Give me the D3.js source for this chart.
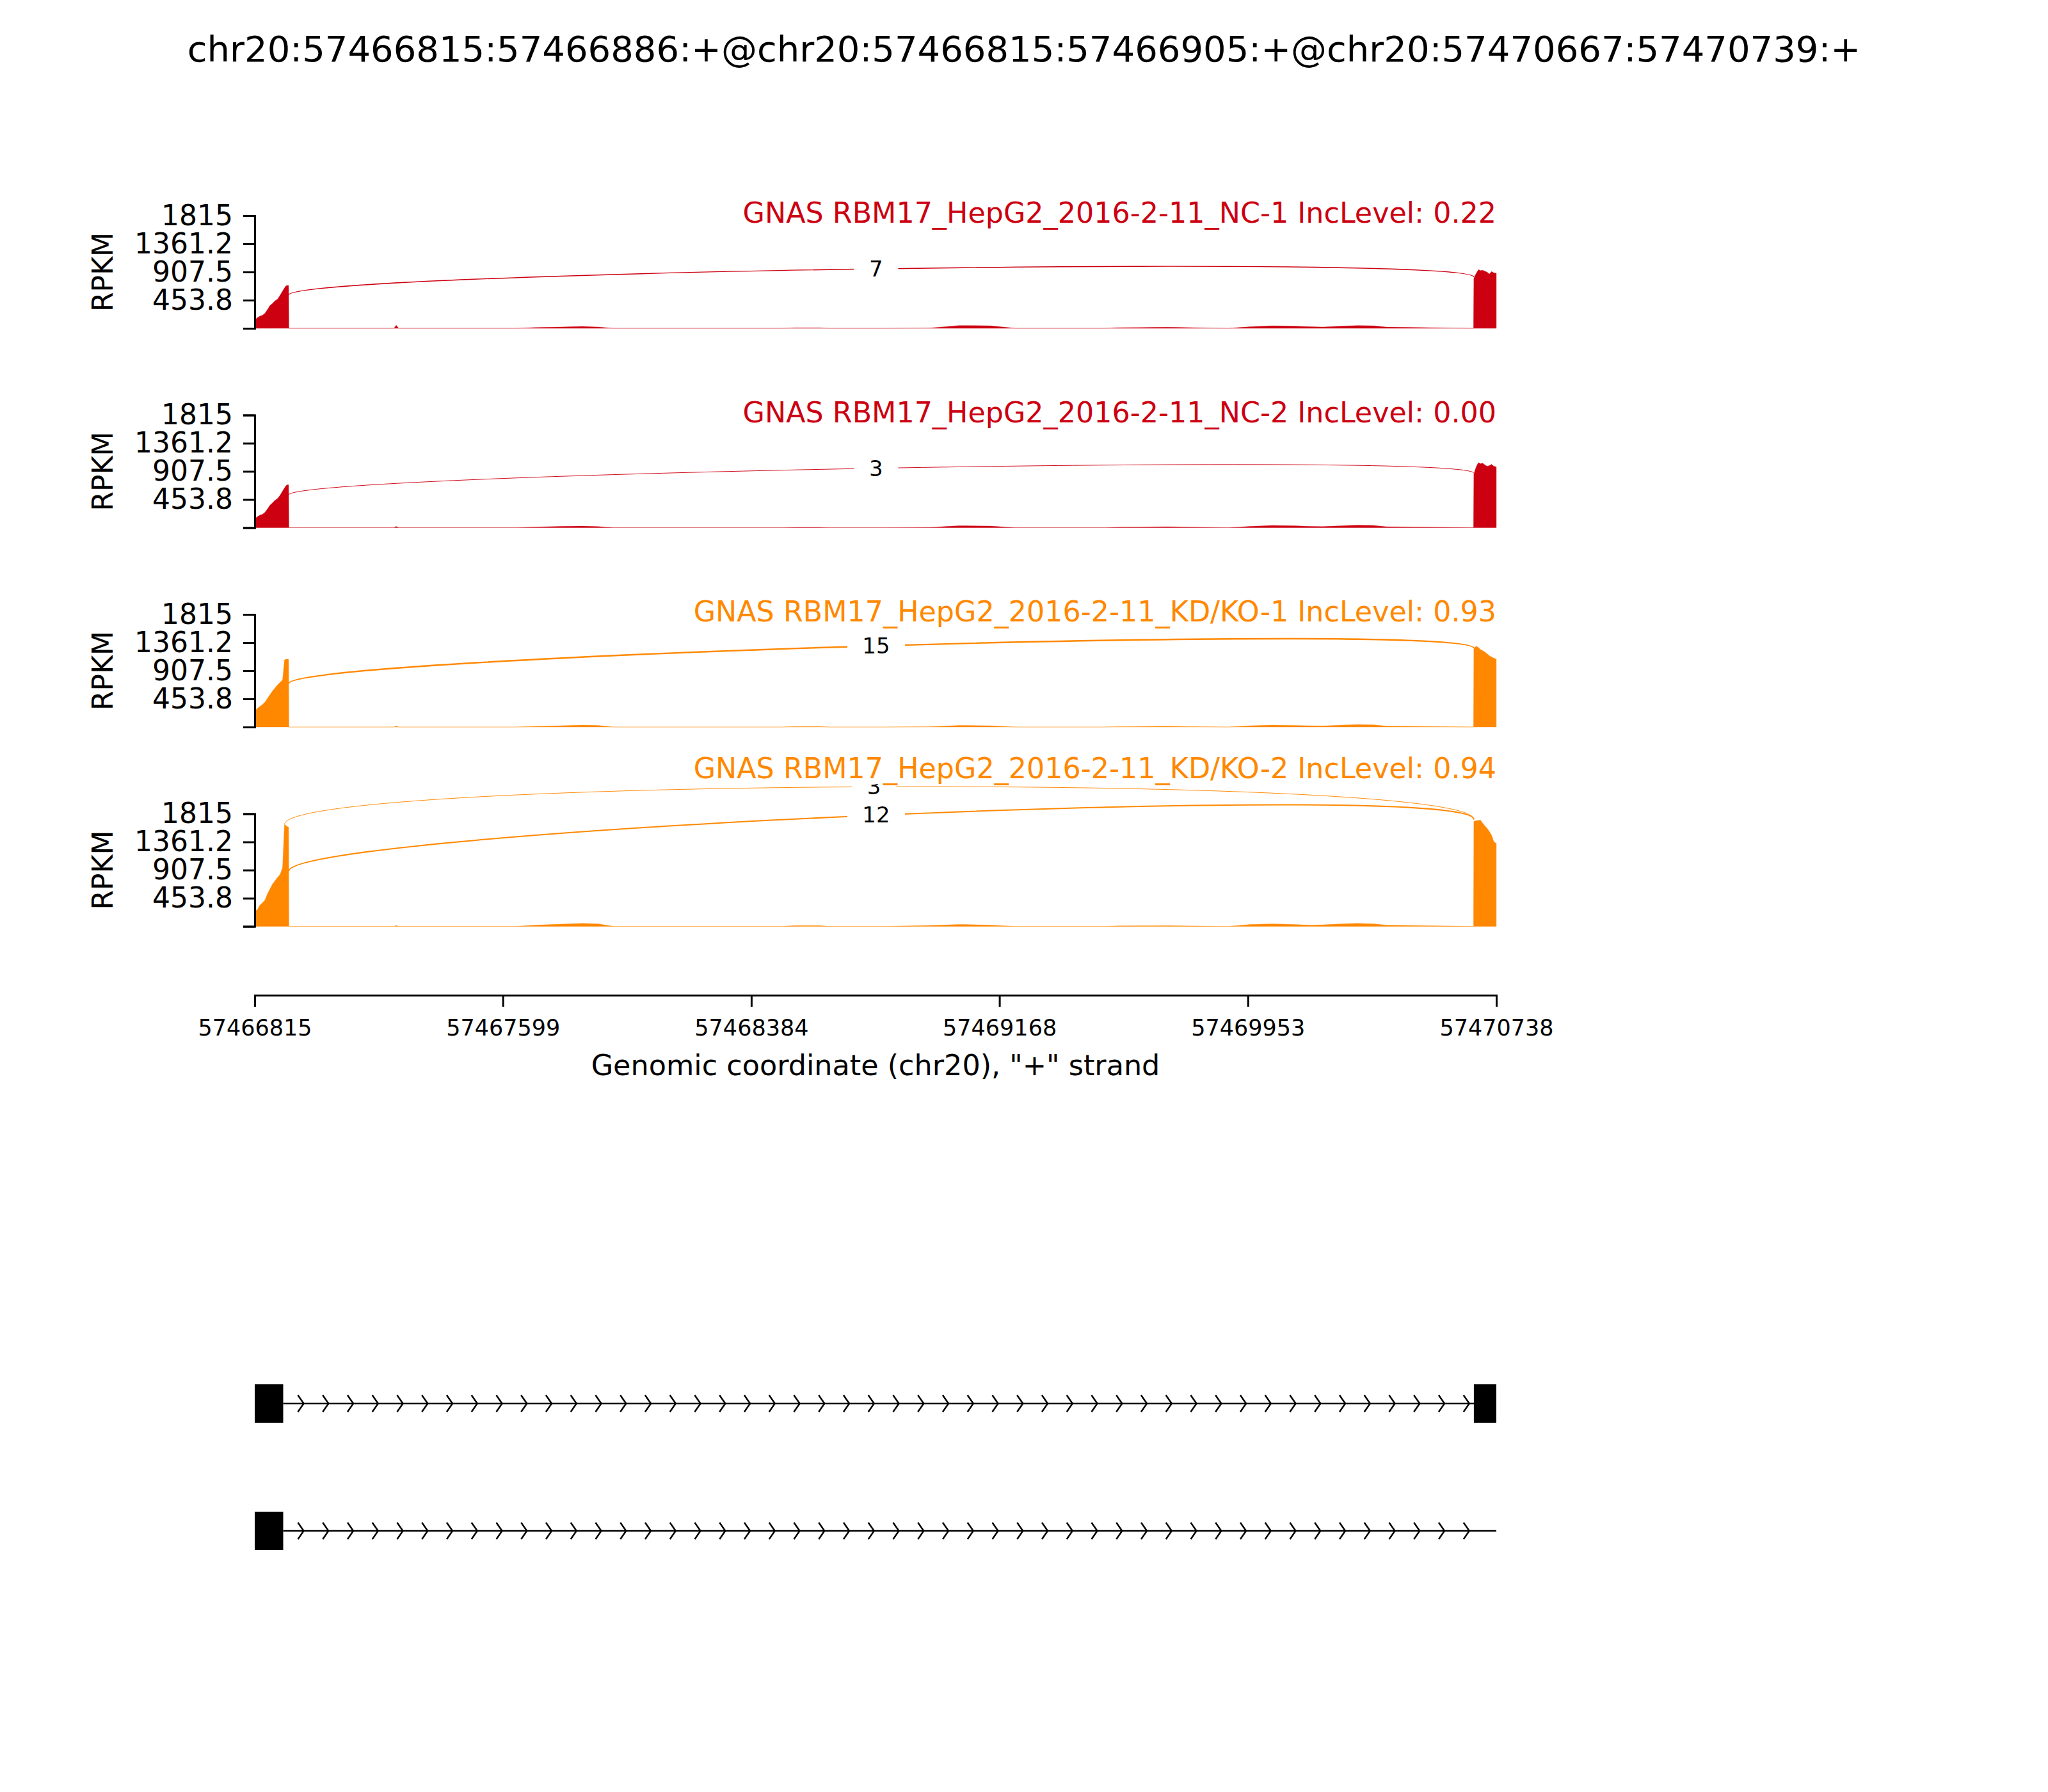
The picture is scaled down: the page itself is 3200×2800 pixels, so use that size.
<!DOCTYPE html>
<html><head><meta charset="utf-8">
<script src="https://cdn.jsdelivr.net/npm/d3@7/dist/d3.min.js"></script>
<style>body{margin:0;background:#fff} svg{display:block} text{font-family:"DejaVu Sans",sans-serif}</style>
</head><body><svg id="chart" width="3200" height="2800"></svg>
<script>
// ---------------- data ----------------
const eventTitle = "chr20:57466815:57466886:+@chr20:57466815:57466905:+@chr20:57470667:57470739:+";
const sampleLabels = ["GNAS RBM17_HepG2_2016-2-11_NC-1","GNAS RBM17_HepG2_2016-2-11_NC-2","GNAS RBM17_HepG2_2016-2-11_KD/KO-1","GNAS RBM17_HepG2_2016-2-11_KD/KO-2"];
const incLevels = ["0.22","0.00","0.93","0.94"];
const sampleGroup = [0,0,1,1];
const groupColors = ["#CC0011","#FF8800"];
const xDomain = [57466815, 57470738];
const xTickValues = [57466815, 57467599, 57468384, 57469168, 57469953, 57470738];
const yTickValues = [0, 453.8, 907.5, 1361.2, 1815];
const yTickLabels = ["", "453.8", "907.5", "1361.2", "1815"];
const yMax = 1815;
const xAxisLabel = 'Genomic coordinate (chr20), "+" strand';
const yAxisLabel = "RPKM";

// coverage sample positions
const exonLPos = [57466815,57466823,57466831,57466839,57466847,57466855,57466863,57466871,57466879,57466887,57466895,57466903,57466909,57466913,57466917,57466922];
const intronPos = [57466923,57467255,57467262,57467270,57467640,57467700,57467780,57467850,57467900,57467950,57468480,57468520,57468600,57468630,57468800,57468950,57469040,57469060,57469140,57469220,57469500,57469540,57469612,57469650,57469700,57469755,57469890,57469960,57470030,57470100,57470155,57470190,57470250,57470300,57470350,57470390,57470666];
const exonRPos = [57470667,57470671,57470676,57470682,57470688,57470695,57470702,57470709,57470716,57470723,57470730,57470738];

// coverage values (RPKM)
const covNC1_L = [134,170,195,210,240,300,365,400,443,470,530,600,650,680,690,691];
const covNC1_I = [0,0,50,0,0,12,20,30,20,0,0,8,8,0,0,6,45,45,40,0,0,10,12,15,18,12,0,25,40,35,25,20,35,45,40,20,0];
const covNC1_R = [804,850,900,945,930,935,920,905,875,915,895,890];
const covNC2_L = [144,175,200,215,245,300,360,400,440,470,520,590,640,670,690,691];
const covNC2_I = [0,0,20,0,0,10,20,25,18,0,0,6,6,0,0,5,30,30,25,0,0,8,10,12,15,10,0,20,35,30,20,18,30,40,35,15,0];
const covNC2_R = [860,930,1000,1050,1030,1040,1010,990,1000,1020,990,980];
const covKD1_L = [258,300,330,360,400,460,520,580,630,680,720,760,1080,1093,1093,1090];
const covKD1_I = [0,0,15,0,0,10,20,30,25,0,0,8,8,0,0,6,25,25,20,0,0,6,8,10,12,8,0,20,30,25,20,18,30,40,35,15,0];
const covKD1_R = [1260,1290,1300,1280,1250,1230,1210,1180,1150,1130,1110,1093];
const covKD2_L = [250,265,340,380,420,520,600,680,734,790,836,950,1642,1630,1610,1600];
const covKD2_I = [0,0,15,0,0,20,35,50,40,0,0,12,12,0,0,15,30,30,20,0,0,8,10,10,12,8,0,30,40,30,20,25,40,50,40,20,0];
const covKD2_R = [1693,1700,1705,1710,1713,1662,1620,1580,1530,1470,1366,1336];

// junctions
const juncSample = [0,1,2,3,3];
const juncCount = [7,3,15,3,12];
const juncStart = [57466922,57466922,57466922,57466909,57466922];
const juncEnd = [57470667,57470667,57470667,57470667,57470667];
const juncStartVal = [536,526,701,1642,887];
const juncEndVal = [825,877,1268,1723,1723];
const juncPeakVal = [960,959,1310,2250,1795];

// gene model isoforms
const isoform1Exons = [[57466815,57466905],[57470667,57470738]];
const isoform2Exons = [[57466815,57466905]];
const isoformEnds = [57470738, 57470738];

// ---------------- drawing ----------------
const covL = [covNC1_L, covNC2_L, covKD1_L, covKD2_L];
const covI = [covNC1_I, covNC2_I, covKD1_I, covKD2_I];
const covR = [covNC1_R, covNC2_R, covKD1_R, covKD2_R];

const svg = d3.select("#chart");
svg.append("rect").attr("width",3200).attr("height",2800).attr("fill","#fff");

const x = d3.scaleLinear().domain(xDomain).range([398, 2338]);
const panelTop0 = 337, panelStep = 311.5, panelH = 176;
const tickFont = 44, subFont = 44.4;

svg.append("text").attr("x",1600).attr("y",96).attr("text-anchor","middle")
  .attr("font-size",56).attr("fill","#000").text(eventTitle);

const lw = d3.scaleLinear().domain([0,15]).range([0.6,2.4]);

sampleLabels.forEach((lab, i) => {
  const top = panelTop0 + i*panelStep;
  const y = d3.scaleLinear().domain([0, yMax]).range([top+panelH, top]);
  const color = groupColors[sampleGroup[i]];
  const g = svg.append("g");

  // coverage
  const pos = exonLPos.concat(intronPos, exonRPos);
  const vals = covL[i].concat(covI[i], covR[i]);
  const pts = pos.map((p,k)=>[p, vals[k]]);
  const area = d3.area().x(d=>x(d[0])).y0(y(0)).y1(d=>y(d[1]));
  g.append("path").attr("d", area(pts)).attr("fill", color).attr("stroke", color)
    .attr("stroke-width",0.8).attr("stroke-opacity",0.45);

  // y axis
  const ax = d3.axisLeft(y).tickValues(yTickValues).tickFormat((d,k)=>yTickLabels[k]).tickSizeOuter(0).tickSize(18).tickPadding(16);
  const ag = g.append("g").attr("transform",`translate(${x(xDomain[0])},0)`).call(ax);
  ag.select(".domain").attr("stroke","#000").attr("stroke-width",3);
  ag.selectAll(".tick line").attr("stroke","#000").attr("stroke-width",3);
  ag.selectAll(".tick text").attr("font-size",tickFont).attr("fill","#000").attr("font-family","DejaVu Sans");

  g.append("text").attr("transform",`translate(176,${top+panelH/2}) rotate(-90)`)
    .attr("text-anchor","middle").attr("font-size",tickFont).attr("fill","#000").text(yAxisLabel);

  // junction arcs
  const myJ = juncSample.map((s,k)=>k).filter(k=>juncSample[k]===i);
  let minArcTop = Infinity;
  myJ.forEach(k=>{
    const x1 = x(juncStart[k]), x2 = x(juncEnd[k]);
    const v1 = juncStartVal[k], v2 = juncEndVal[k];
    const h = (juncPeakVal[k] - (v1+v2)/2)/0.75;
    const p = d3.path();
    p.moveTo(x1, y(v1));
    p.bezierCurveTo(x1, y(v1+h), x2, y(v2+h), x2, y(v2));
    g.append("path").attr("d", p.toString()).attr("fill","none").attr("stroke",color)
      .attr("stroke-width", lw(juncCount[k]));
    minArcTop = Math.min(minArcTop, y(juncPeakVal[k]));
  });
  myJ.forEach(k=>{
    const mx = (x(juncStart[k]) + x(juncEnd[k]))/2 - 8, my = y(juncPeakVal[k]);
    const t = String(juncCount[k]);
    const w = t.length*21 + 48;
    g.append("rect").attr("x",mx-w/2).attr("y",my-22).attr("width",w).attr("height",44).attr("fill","#fff");
    g.append("text").attr("x",mx).attr("y",my+12).attr("text-anchor","middle").attr("font-size",34).attr("fill","#000").text(t);
  });

  // sample title (with white background)
  const ty = Math.min(top + 11, minArcTop - 13);
  const tg = g.append("g");
  const tt = tg.append("text").attr("x",x(xDomain[1])).attr("y",ty).attr("text-anchor","end")
    .attr("font-size",subFont).attr("fill",color).text(`${lab} IncLevel: ${incLevels[i]}`);
  const bb = tt.node().getBBox();
  tg.insert("rect","text").attr("x",bb.x-3).attr("y",bb.y-2).attr("width",bb.width+6).attr("height",bb.height).attr("fill","#fff");
});

// x axis
const xa = d3.axisBottom(x).tickValues(xTickValues).tickFormat(d=>String(d)).tickSizeOuter(0).tickSize(18).tickPadding(20);
const xg = svg.append("g").attr("transform","translate(0,1555)").call(xa);
xg.select(".domain").attr("stroke","#000").attr("stroke-width",3);
xg.selectAll(".tick line").attr("stroke","#000").attr("stroke-width",3);
xg.selectAll(".tick text").attr("font-size",35).attr("fill","#000").attr("font-family","DejaVu Sans");
svg.append("text").attr("x",(x.range()[0]+x.range()[1])/2).attr("y",1680).attr("text-anchor","middle")
  .attr("font-size",44.5).attr("fill","#000").text(xAxisLabel);

// gene model
const isoforms = [isoform1Exons, isoform2Exons];
const trackY = [2193, 2392];
const exonH = 60, chevSpacing = 38.75, chevW = 9, chevH = 13;
isoforms.forEach((exons, i) => {
  const cy = trackY[i];
  const g = svg.append("g");
  const lineStart = x(exons[0][1]), lineEnd = x(isoformEnds[i]);
  g.append("line").attr("x1",lineStart).attr("x2",lineEnd).attr("y1",cy).attr("y2",cy)
    .attr("stroke","#000").attr("stroke-width",2.5);
  const chevEnd = x(57470667);
  for (let cx = lineStart + 32; cx <= chevEnd + 0.5; cx += chevSpacing) {
    g.append("path").attr("d",`M${cx-chevW},${cy-chevH} L${cx},${cy} L${cx-chevW},${cy+chevH}`)
      .attr("fill","none").attr("stroke","#000").attr("stroke-width",2.5);
  }
  exons.forEach(e=>{
    g.append("rect").attr("x",x(e[0])).attr("y",cy-exonH/2).attr("width",x(e[1])-x(e[0])).attr("height",exonH).attr("fill","#000");
  });
});
</script></body></html>
